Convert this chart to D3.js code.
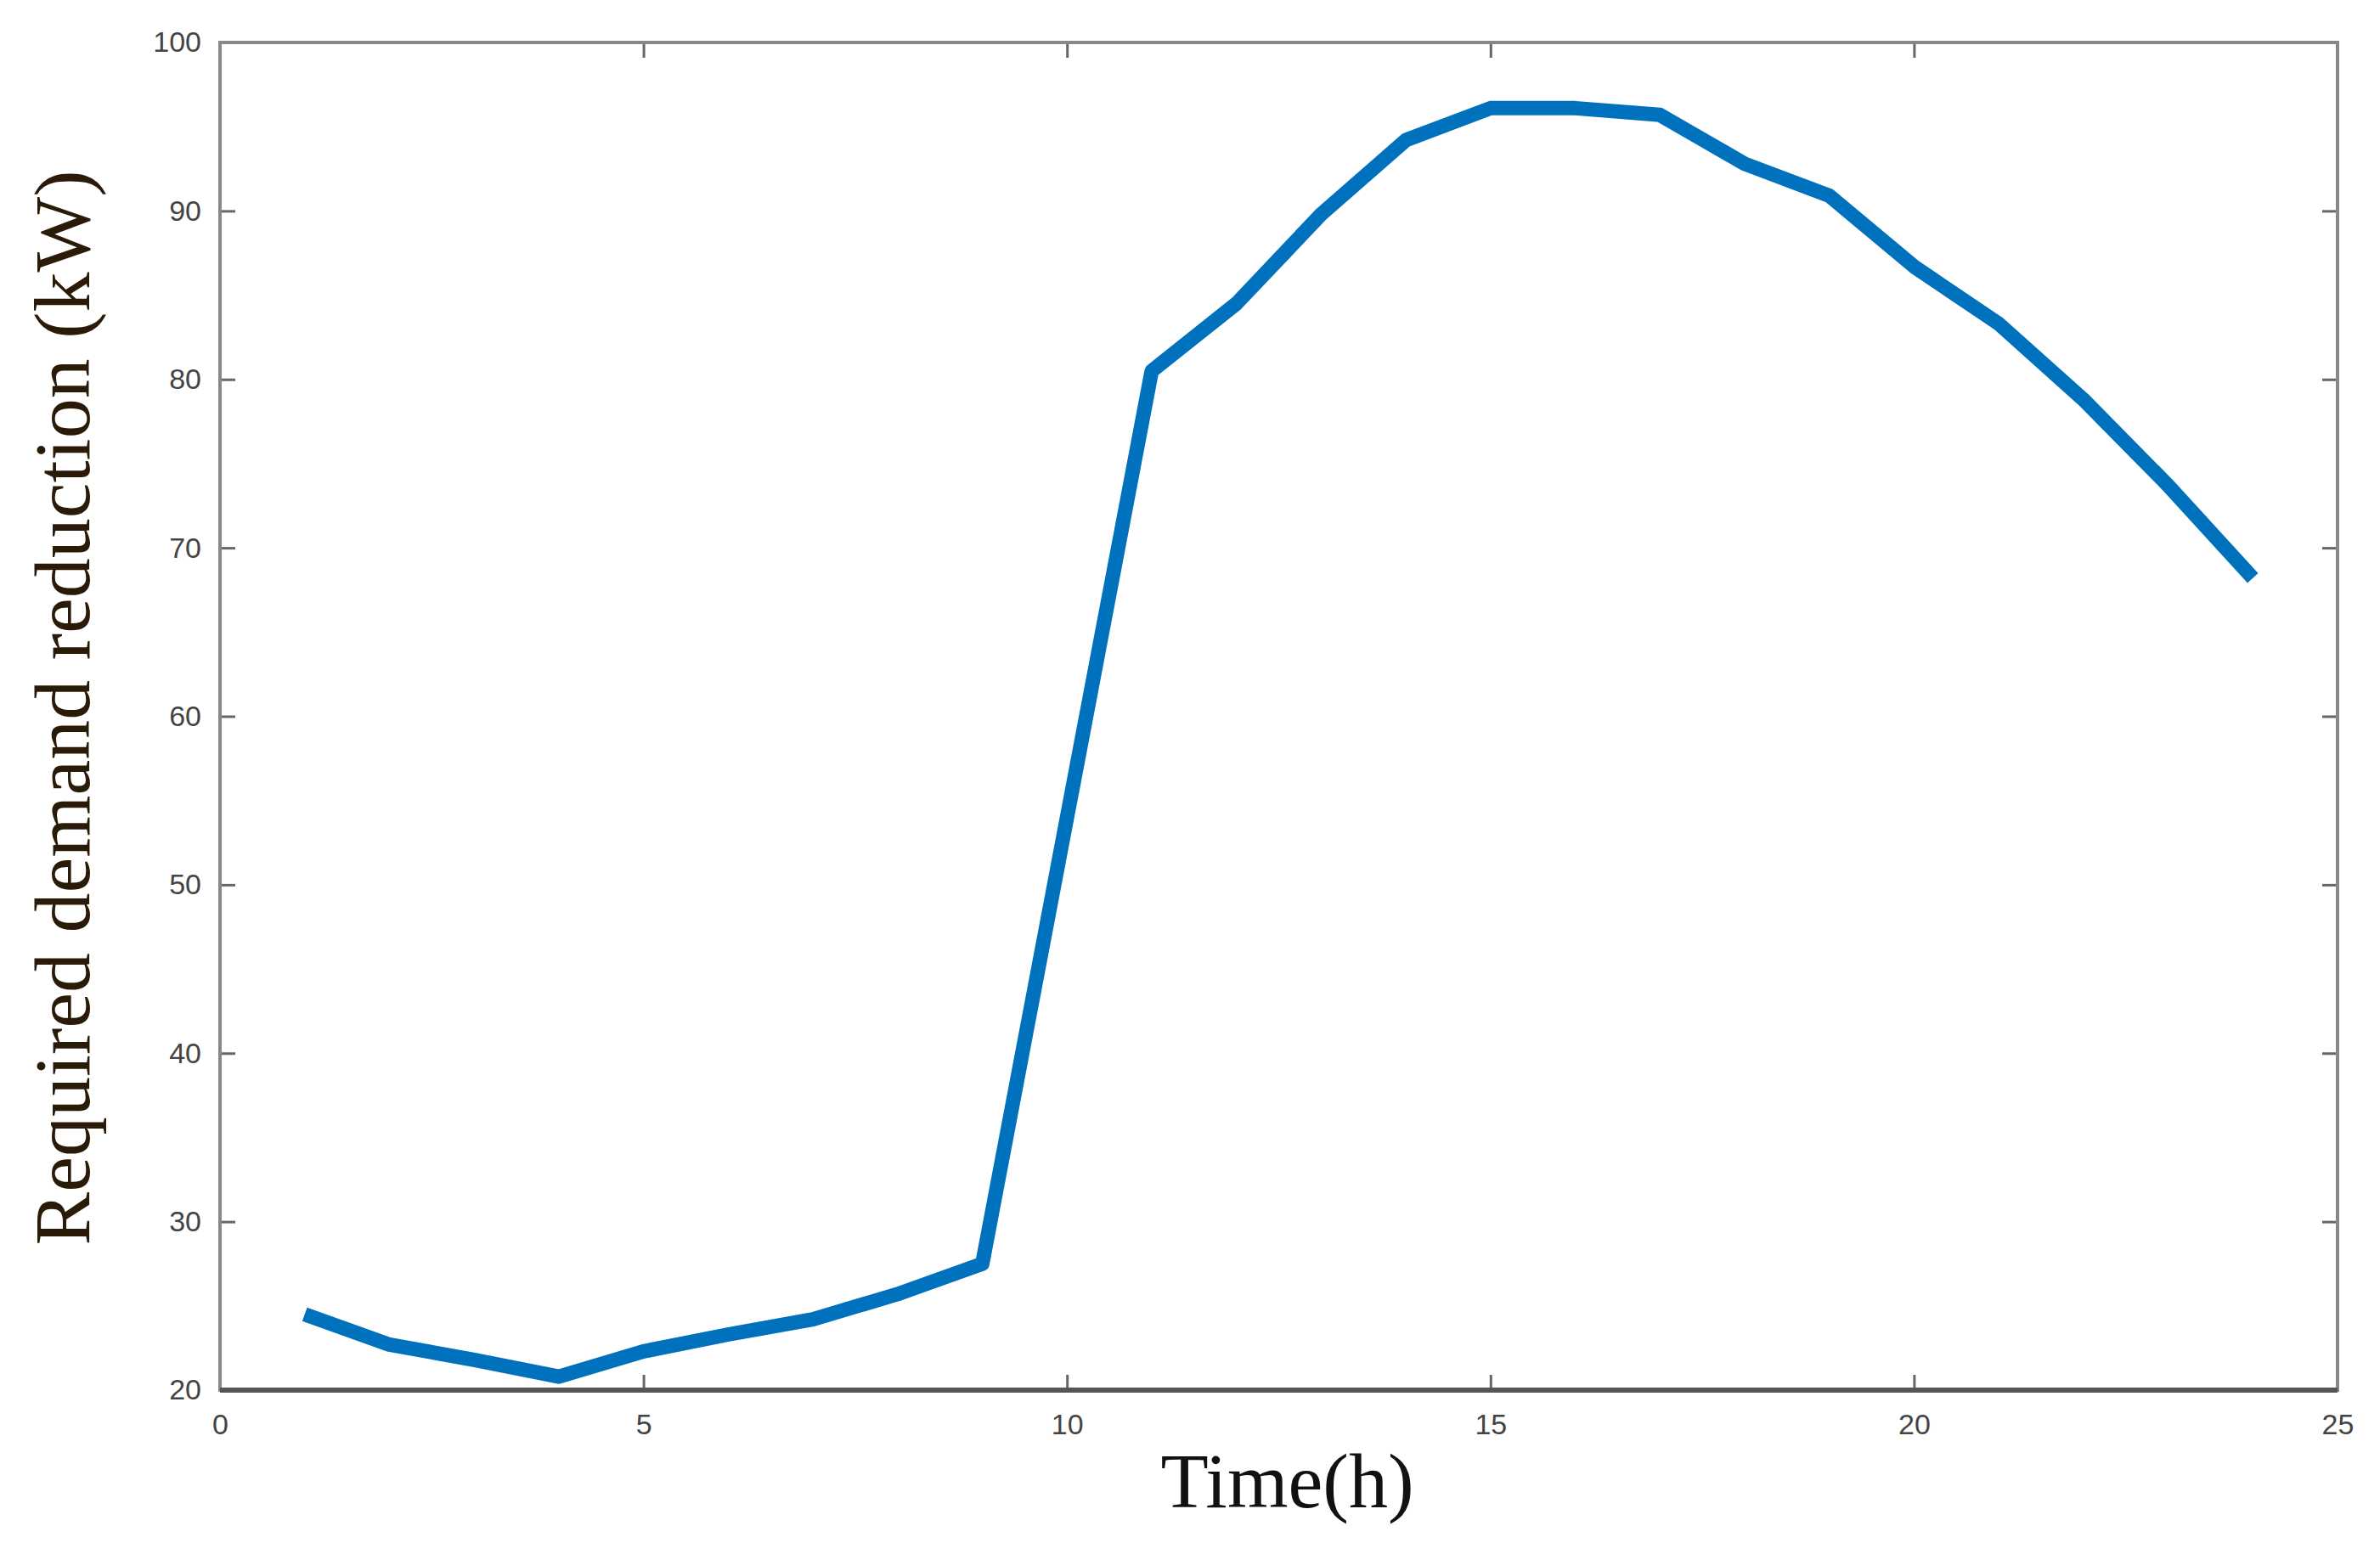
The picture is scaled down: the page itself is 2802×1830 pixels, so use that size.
<!DOCTYPE html>
<html><head><meta charset="utf-8">
<script src="https://cdn.jsdelivr.net/npm/d3@7"></script>
<style>body{margin:0;background:#fff;}</style>
</head><body>
<script>
var hours = [1,2,3,4,5,6,7,8,9,10,11,12,13,14,15,16,17,18,19,20,21,22,23,24];
var reduction = [24.5,22.7,21.8,20.8,22.3,23.3,24.2,25.7,27.5,54,80.5,84.5,89.8,94.2,96.1,96.1,95.7,92.8,90.9,86.7,83.3,78.8,73.7,68.2];
var xTicks = [0,5,10,15,20,25];
var yTicks = [20,30,40,50,60,70,80,90,100];

var W = 2802, H = 1830;
var m = {left: 259, top: 50, right: 50, bottom: 193};
var iw = W - m.left - m.right, ih = H - m.top - m.bottom;

var svg = d3.select("body").append("svg").attr("width", W).attr("height", H);
var g = svg.append("g").attr("transform", "translate(" + m.left + "," + m.top + ")");

var x = d3.scaleLinear().domain([0, 25]).range([0, iw]);
var y = d3.scaleLinear().domain([20, 100]).range([ih, 0]);

function style(sel) {
    sel.select(".domain").remove();
    sel.selectAll("line").attr("stroke", "#666").attr("stroke-width", 3);
    sel.selectAll("text").attr("fill", "#444").attr("font-family", "Arial, Liberation Sans, sans-serif").attr("font-size", 34);
}

g.append("g").attr("transform", "translate(0," + ih + ")")
    .call(d3.axisBottom(x).tickValues(xTicks).tickSize(-18).tickPadding(28)).call(style);
g.append("g").call(d3.axisTop(x).tickValues(xTicks).tickSize(-18).tickFormat("")).call(style);
g.append("g").call(d3.axisLeft(y).tickValues(yTicks).tickSize(-18).tickPadding(22)).call(style);
g.append("g").attr("transform", "translate(" + iw + ",0)")
    .call(d3.axisRight(y).tickValues(yTicks).tickSize(-18).tickFormat("")).call(style);

g.append("rect").attr("width", iw).attr("height", ih)
    .attr("fill", "none").attr("stroke", "#888").attr("stroke-width", 4);
g.append("line").attr("x1", 0).attr("x2", iw).attr("y1", ih).attr("y2", ih)
    .attr("stroke", "#555").attr("stroke-width", 6);

var line = d3.line().x(function (d, i) { return x(hours[i]); }).y(function (d) { return y(d); });
g.append("path").datum(reduction).attr("d", line)
    .attr("fill", "none").attr("stroke", "#0072BD").attr("stroke-width", 17)
    .attr("stroke-linejoin", "round");

svg.append("text").attr("x", m.left + iw / 2 + 10).attr("y", 1775)
    .attr("text-anchor", "middle").attr("font-family", "Liberation Serif, Times New Roman, serif")
    .attr("font-size", 92).attr("fill", "#111").text("Time(h)");

svg.append("text").attr("transform", "translate(105," + (m.top + ih / 2 - 10) + ") rotate(-90)")
    .attr("text-anchor", "middle").attr("font-family", "Liberation Serif, Times New Roman, serif")
    .attr("font-size", 94).attr("fill", "#2a1a08").text("Required demand reduction (kW)");
</script>
</body></html>
